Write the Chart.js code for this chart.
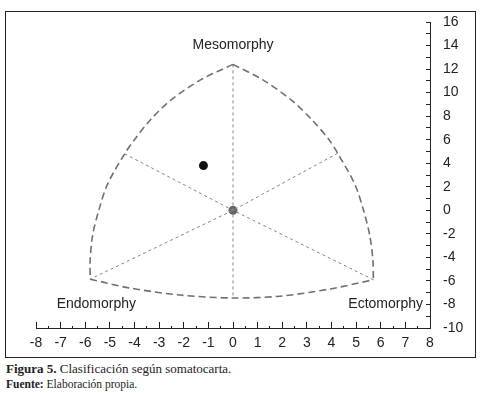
<!DOCTYPE html>
<html>
<head>
<meta charset="utf-8">
<script src="https://cdn.jsdelivr.net/npm/chart.js@4"></script>
<style>
  body { margin: 0; background: #fff; width: 481px; height: 393px; overflow: hidden; }
  #box { position: absolute; left: 5px; top: 11px; width: 469px; height: 345px; border: 1px solid #222; }
  #chart { display: block; }
  .caption { position: absolute; left: 6px; font-family: "Liberation Serif", serif; color: #222; white-space: nowrap; }
  #cap1 { top: 361px; font-size: 13px; }
  #cap2 { top: 378px; font-size: 11.5px; }
</style>
</head>
<body>
<div id="box"><canvas id="chart" width="469" height="345"></canvas></div>
<div class="caption" id="cap1"><b>Figura 5.</b> Clasificación según somatocarta.</div>
<div class="caption" id="cap2"><b>Fuente:</b> Elaboración propia.</div>
<script>
// Somatochart outline
const leftArcX = [0, -1.3, -2.5, -3.35, -4.0, -4.4, -5.1, -5.45, -5.7, -5.8, -5.8];
const leftArcY = [12.4, 11.1, 9.4, 7.7, 6.0, 4.8, 2.2, 0.0, -2.1, -4.2, -5.85];
const rightArcX = [0, 1.2, 2.35, 3.2, 3.9, 4.25, 4.95, 5.3, 5.55, 5.68, 5.7];
const rightArcY = [12.4, 11.1, 9.4, 7.7, 6.0, 4.85, 2.2, 0.0, -2.1, -4.2, -5.9];
const bottomArcX = [-5.8, -4.2, -2.15, 0, 1.9, 3.9, 5.7];
const bottomArcY = [-5.85, -6.6, -7.2, -7.45, -7.3, -6.7, -5.9];

// Inner axes of the chart
const verticalX = [0, 0];
const verticalY = [12.4, -7.45];
const diagDownX = [-4.4, 0, 5.7];
const diagDownY = [4.8, 0, -5.9];
const diagUpX = [4.25, 0, -5.8];
const diagUpY = [4.85, 0, -5.85];

// Points
const subjectX = [-1.2];
const subjectY = [3.8];
const originX = [0];
const originY = [0];

// Corner labels
const cornerNames = ['Mesomorphy', 'Endomorphy', 'Ectomorphy'];
const cornerX = [0, -5.55, 6.2];
const cornerY = [14.05, -8, -8];

const xMin = -8, xMax = 8, yMin = -10, yMax = 16;

function toPoints(xs, ys) {
    return xs.map((x, i) => ({ x: x, y: ys[i] }));
}

function lineSet(xs, ys, dash, width, color, tension) {
    return {
        data: toPoints(xs, ys),
        showLine: true,
        borderColor: color,
        borderWidth: width,
        borderDash: dash,
        pointRadius: 0,
        tension: tension,
        fill: false
    };
}

const arcColor = '#707070';
const innerColor = '#858585';

// Text labels at the three corners
const cornerLabels = {
    id: 'cornerLabels',
    afterDatasetsDraw(chart) {
        const { ctx, scales } = chart;
        ctx.save();
        ctx.font = '14px "Liberation Sans", Arial, sans-serif';
        ctx.fillStyle = '#222';
        ctx.textAlign = 'center';
        ctx.textBaseline = 'middle';
        cornerNames.forEach((name, i) => {
            ctx.fillText(name, scales.x.getPixelForValue(cornerX[i]), scales.y.getPixelForValue(cornerY[i]));
        });
        ctx.restore();
    }
};

new Chart(document.getElementById('chart'), {
    type: 'scatter',
    data: {
        datasets: [
            lineSet(leftArcX, leftArcY, [7, 4], 1.6, arcColor, 0.3),
            lineSet(rightArcX, rightArcY, [7, 4], 1.6, arcColor, 0.3),
            lineSet(bottomArcX, bottomArcY, [7, 4], 1.6, arcColor, 0.3),
            lineSet(verticalX, verticalY, [3, 3], 1, innerColor, 0),
            lineSet(diagDownX, diagDownY, [3, 3], 1, innerColor, 0),
            lineSet(diagUpX, diagUpY, [3, 3], 1, innerColor, 0),
            {
                data: toPoints(originX, originY),
                pointRadius: 4.5,
                backgroundColor: '#666',
                borderWidth: 0
            },
            {
                data: toPoints(subjectX, subjectY),
                pointRadius: 4.5,
                backgroundColor: '#111',
                borderWidth: 0
            }
        ]
    },
    options: {
        responsive: false,
        animation: false,
        layout: { padding: { left: 30, top: 10, right: 0, bottom: 0 } },
        plugins: {
            legend: { display: false },
            tooltip: { enabled: false }
        },
        scales: {
            x: {
                type: 'linear',
                min: xMin,
                max: xMax,
                afterFit(scale) {
                    scale.height = 29;
                    scale.paddingLeft = 6;
                    scale.paddingRight = 6;
                },
                border: { display: true, color: '#222', width: 1 },
                grid: {
                    drawOnChartArea: false,
                    tickLength: -6,
                    color: '#222',
                    tickBorderDash: c => (Number.isInteger(c.tick.value) ? [] : [3, 20])
                },
                ticks: {
                    stepSize: 0.5,
                    padding: 13,
                    autoSkip: false,
                    maxRotation: 0,
                    minRotation: 0,
                    color: '#222',
                    font: { family: '"Liberation Sans", Arial, sans-serif', size: 14 },
                    callback: v => (Number.isInteger(v) ? String(v) : '')
                }
            },
            y: {
                type: 'linear',
                position: 'right',
                min: yMin,
                max: yMax,
                afterFit(scale) {
                    scale.width = 45;
                    scale.paddingTop = 8;
                    scale.paddingBottom = 8;
                },
                border: { display: true, color: '#222', width: 1 },
                grid: {
                    drawOnChartArea: false,
                    tickLength: -4,
                    color: '#222'
                },
                ticks: {
                    stepSize: 1,
                    padding: 17,
                    autoSkip: false,
                    color: '#222',
                    font: { family: '"Liberation Sans", Arial, sans-serif', size: 14 },
                    callback: v => (v % 2 === 0 ? String(v) : '')
                }
            }
        }
    },
    plugins: [cornerLabels]
});
</script>
</body>
</html>
